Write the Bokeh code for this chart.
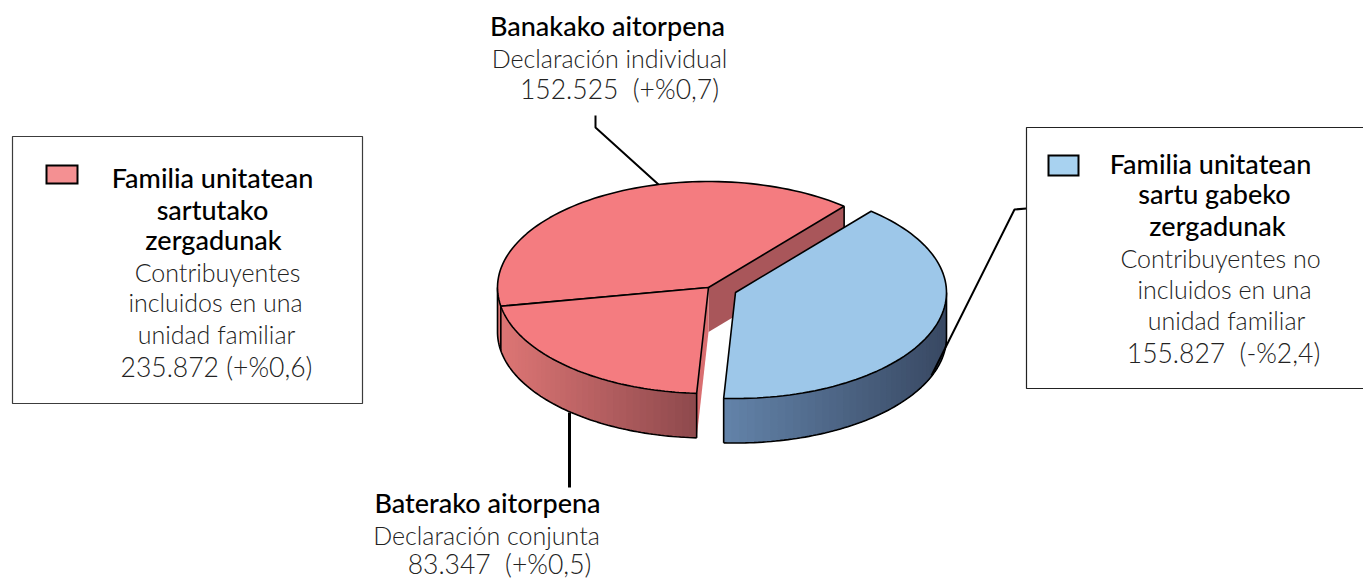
import numpy as np
from bokeh.plotting import figure
from bokeh.core.properties import value
from bokeh.embed import file_html
from bokeh.resources import INLINE

# ---- data ----
categories = ["Banakako aitorpena", "Baterako aitorpena", "Familia unitatean sartu gabeko zergadunak"]
series_values = [152525, 83347, 155827]

# ---- text blocks: (text, centre x, baseline y) ----
HEAD = "Lato Medium"
BODY = "Lato Light"
NB = "\u00a0"
head_lines = [
    ("Banakako aitorpena", 607, 35), ("Baterako aitorpena", 487, 512),
    ("Familia unitatean", 212, 187), ("sartutako", 212, 219), ("zergadunak", 213, 249),
    ("Familia unitatean", 1210, 173), ("sartu gabeko", 1214, 203), ("zergadunak", 1217, 235),
]
body_lines = [
    ("Declaración individual", 609, 67),
    ("Declaración conjunta", 486, 544),
    ("Contribuyentes", 217, 281), ("incluidos en una", 215, 311), ("unidad familiar", 216, 343),
    ("Contribuyentes no", 1220, 267), ("incluidos en una", 1224, 298), ("unidad familiar", 1226, 329),
]
number_lines = [
    (f"152.525{NB}{NB}(+%0,7)", 619, 98),
    (f"83.347{NB}{NB}(+%0,5)", 499, 573),
    ("235.872 (+%0,6)", 216, 376),
    (f"155.827{NB}{NB}(-%2,4)", 1223, 362),
]

W, H = 1363, 579
p = figure(width=W, height=H, x_range=(0, W), y_range=(H, 0),
           output_backend="svg", toolbar_location=None, min_border=0,
           x_axis_type="linear", y_axis_type="linear")
p.axis.visible = False
p.grid.visible = False
p.outline_line_color = None
p.background_fill_color = "white"
p.border_fill_color = "white"

# ---- pie geometry ----
A, B, DEPTH = 211, 106, 44.5
RED_C = (708, 287)
BLUE_C = (735, 292)
START = 50.0
total = sum(series_values)
sweeps = [v / total * 360 for v in series_values]
a0 = START
a1 = a0 + sweeps[0]
a2 = a1 + sweeps[1]
a3 = a2 + sweeps[2]


def ell(c, t, dz=0.0):
    t = np.radians(t)
    return c[0] + A * np.cos(t), c[1] - B * np.sin(t) + dz


def arc(c, t0, t1, dz=0.0, n=80):
    t = np.linspace(t0, t1, n)
    return ell(c, t, dz)


def mix(c0, c1, f):
    return "#%02x%02x%02x" % tuple(int(round(x + (y - x) * f)) for x, y in zip(c0, c1))


def wall(c, t0, t1, c0, c1, n=44):
    # painted left to right, each band reaching to the end of the wall, so no seams show
    edges = np.linspace(t0, t1, n + 1)
    x0, _ = ell(c, t0)
    x1, _ = ell(c, t1)
    for i in range(n):
        xa, ya = arc(c, edges[i], t1, 0, 40)
        xb, yb = arc(c, t1, edges[i], DEPTH, 40)
        f = (ell(c, edges[i])[0] - x0) / (x1 - x0)
        p.patch(list(xa) + list(xb), list(ya) + list(yb), fill_color=mix(c0, c1, f), line_color=None)


RED_TOP = "#f47c80"
BLUE_TOP = "#9dc7e9"
STROKE = dict(line_color="black", line_width=1.6)

# leader lines behind the pie
p.line([595, 595, 658], [115, 127, 184], line_color="black", line_width=2)
p.line([569, 569], [412, 487], line_color="black", line_width=3)

# red: inner cut face of the large slice
ex, ey = ell(RED_C, a0)
p.patch([RED_C[0], ex, ex, RED_C[0]], [RED_C[1], ey, ey + DEPTH, RED_C[1] + DEPTH],
        fill_color="#a9565a", line_color=None)
p.line([ex, ex], [ey, ey + DEPTH], **STROKE)
# red: cut face of the small slice
cx, cy = ell(RED_C, a2)
p.patch([RED_C[0], cx, cx, RED_C[0]], [RED_C[1], cy, cy + DEPTH, RED_C[1] + DEPTH],
        fill_color="#d96e70", line_color=None)
# red: outer wall
wall(RED_C, 180, a2, (222, 118, 117), (140, 72, 76))
wx, wy = arc(RED_C, 180, a2, DEPTH)
p.line(wx, wy, **STROKE)
lx, ly = ell(RED_C, 180)
p.line([lx, lx], [ly, ly + DEPTH], **STROKE)
jx, jy = ell(RED_C, a1)
p.line([jx, jx], [jy, jy + DEPTH], **STROKE)
p.line([cx, cx], [cy, cy + DEPTH], **STROKE)
# red: top faces
for t0, t1 in ((a0, a1), (a1, a2)):
    ax, ay = arc(RED_C, t0, t1)
    p.patch([RED_C[0]] + list(ax), [RED_C[1]] + list(ay), fill_color=RED_TOP, **STROKE)

# blue: outer wall
wall(BLUE_C, a2, 360, (98, 130, 168), (56, 72, 98))
wx, wy = arc(BLUE_C, a2, 360, DEPTH)
p.line(wx, wy, **STROKE)
bx, by = ell(BLUE_C, a2)
p.line([bx, bx], [by, by + DEPTH], **STROKE)
rx, ry = ell(BLUE_C, 360)
p.line([rx, rx], [ry, ry + DEPTH], **STROKE)
# blue: top face
ax, ay = arc(BLUE_C, a2, a3)
p.patch([BLUE_C[0]] + list(ax), [BLUE_C[1]] + list(ay), fill_color=BLUE_TOP, **STROKE)

# leader to the right box
p.line([1026, 1014, 931], [208, 209, 375], line_color="black", line_width=2)

# boxes
p.patch([12, 362, 362, 12], [136, 136, 403, 403], fill_color="white", line_color="#3c3c3c", line_width=1.2)
p.patch([1026, 1372, 1372, 1026], [127, 127, 388, 388], fill_color="white", line_color="#222222", line_width=1.2)
p.patch([46, 77, 77, 46], [165, 165, 183, 183], fill_color="#f49092", line_color="black", line_width=2, line_join="miter")
p.patch([1048, 1078, 1078, 1048], [155, 155, 175, 175], fill_color="#a8d2f0", line_color="black", line_width=2, line_join="miter")


def texts(lines, font, size, color):
    p.text([l[1] for l in lines], [l[2] for l in lines], text=[l[0] for l in lines],
           text_font=value(font), text_font_size=size, text_color=color,
           text_align="center", text_baseline="alphabetic", y_offset=-10)


texts(head_lines, HEAD, "27px", "black")
texts(body_lines, BODY, "25px", "#222222")
texts(number_lines, BODY, "26.5px", "#222222")

open("out.html", "w").write(file_html(p, INLINE))
